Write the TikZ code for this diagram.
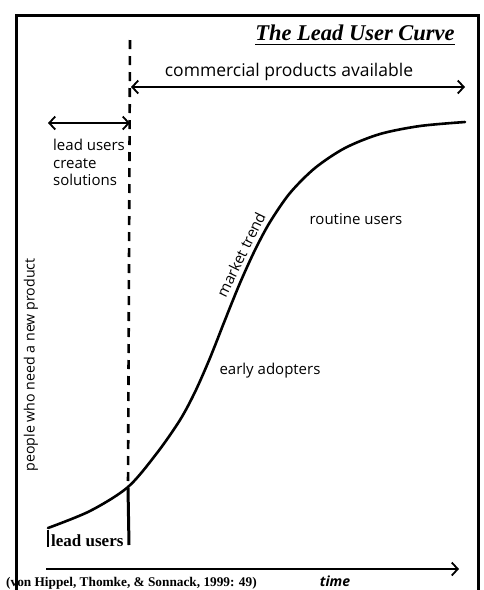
\documentclass[tikz,border=0pt]{standalone}
\usepackage{fontspec}
\setmainfont{Liberation Serif}
\newfontfamily\labelfont{Open Sans}
\usetikzlibrary{arrows.meta}
\tikzset{
  frameline/.style={line width=3pt},
  curveline/.style={line width=2.6pt, line cap=round},
  guide/.style={line width=2.6pt, dash pattern=on 9pt off 7pt},
  spanarrow/.style={line width=1.8pt, {Straight Barb[length=6pt,width=13pt]}-{Straight Barb[length=6pt,width=13pt]}},
  axisarrow/.style={line width=1.8pt, -{Straight Barb[length=6pt,width=13pt]}},
  lbl/.style={font=\labelfont\fontsize{15}{18}\selectfont, inner sep=0pt},
}
\begin{document}
\begin{tikzpicture}[x=1pt, y=-1pt]
  \fill[white] (0,0) rectangle (483,590);
  \useasboundingbox (0,0) rectangle (483,590);

  % outer frame, open at the bottom
  \draw[frameline] (16,592) -- (16,15) -- (478,15) -- (478,592);

  % title
  \node[inner sep=0pt, font=\fontsize{22.5}{26}\selectfont\bfseries\itshape] (title) at (355,33) {The Lead User Curve};
  \draw[line width=1.6pt] ([yshift=-4pt]title.base west) -- ([yshift=-4pt]title.base east);

  % key coordinates
  \coordinate (dtop) at (130,40);
  \coordinate (meet) at (128,488);
  \coordinate (dbot) at (129,545);
  \coordinate (cl) at (131,87);
  \coordinate (cr) at (465,87);
  \coordinate (ll) at (48,123);
  \coordinate (lr) at (130,123);
  \coordinate (tl) at (46,569);
  \coordinate (tr) at (459,569);
  \coordinate (tick top) at (48,530);
  \coordinate (tick bot) at (48,547);

  % boundary between lead users and the market
  \draw[guide] (dtop) -- (meet);
  \draw[line width=3pt] (meet) -- (dbot);
  \draw[line width=1.2pt] (tick top) -- (tick bot);

  % market trend curve
  \draw[curveline] plot[smooth, tension=0.5] coordinates {
    (48,528) (90,511) (128,487) (157,453) (180,420) (195,392) (210,358)
    (225,320) (240,283) (255,250) (270,222) (290,193) (315,168)
    (345,148) (380,134) (420,126) (465,122)};

  % spans
  \draw[spanarrow] (cl) -- (cr);
  \draw[spanarrow] (ll) -- (lr);
  \draw[axisarrow] (tl) -- (tr);

  % labels
  \node[lbl, font=\labelfont\fontsize{17.5}{20}\selectfont] (commercial) at (289,72) {commercial products available};
  \node[lbl, anchor=north west, align=left, font=\labelfont\fontsize{15}{17.5}\selectfont] (create) at (53,139) {lead users\\create\\solutions};
  \node[lbl] (routine) at (356,219) {routine users};
  \node[lbl] (early) at (270,371) {early adopters};
  \node[lbl, rotate=64, anchor=base] (trend) at (246,257) {market trend};
  \node[lbl, rotate=90, font=\labelfont\fontsize{14.2}{17}\selectfont] (people) at (31,365) {people who need a new product};
  \node[inner sep=0pt, anchor=base west, font=\fontsize{17}{20}\selectfont\bfseries] (leadusers) at (51,546) {lead users};
  \node[inner sep=0pt, anchor=base west, font=\fontsize{13.3}{15}\selectfont\bfseries] (cite) at (6,586) {(von Hippel, Thomke, \& Sonnack, 1999: 49)};
  \node[inner sep=0pt, anchor=base, font=\labelfont\fontsize{14}{16}\selectfont\bfseries\itshape] (time) at (335,586) {time};
\end{tikzpicture}
\end{document}
